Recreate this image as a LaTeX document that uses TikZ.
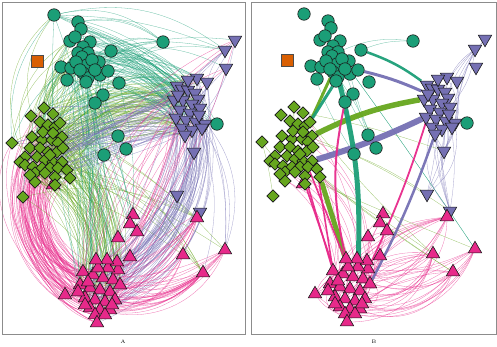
\documentclass[tikz,border=0pt]{standalone}
\usetikzlibrary{shapes.geometric}
\definecolor{dteal}{HTML}{1B9E77}
\definecolor{dorange}{HTML}{D95F02}
\definecolor{dpurple}{HTML}{7570B3}
\definecolor{dpink}{HTML}{E7298A}
\definecolor{dgreen}{HTML}{66A61E}
\pgfdeclarelayer{bg}
\pgfsetlayers{bg,main}
\tikzset{
  nodeline/.style={draw=black!90, line width=0.6pt, inner sep=0pt},
  tealN/.style={nodeline, circle, fill=dteal, minimum size=12.5pt},
  purpN/.style={nodeline, regular polygon, regular polygon sides=3, shape border rotate=180, fill=dpurple, minimum size=15.5pt},
  pinkN/.style={nodeline, regular polygon, regular polygon sides=3, fill=dpink, minimum size=15.5pt},
  dmdN/.style={nodeline, diamond, aspect=1, fill=dgreen, minimum width=12.5pt, minimum height=12.5pt},
  sqN/.style={draw=black!70, line width=0.5pt, fill=dorange, minimum size=12pt, inner sep=0pt},
  thinE/.style={line width=0.3pt, draw opacity=0.65},
  tE/.style={thinE, draw=dteal},
  uE/.style={thinE, draw=dpurple},
  pE/.style={thinE, draw=dpink},
  gE/.style={thinE, draw=dgreen},
  thickE/.style={draw opacity=0.95},
  frameR/.style={draw=black!45, line width=0.8pt},
  lbl/.style={font=\fontsize{5}{6}\selectfont, inner sep=0pt}
}
\newcommand\placenodes[3]{%
  \foreach \x/\y [count=\i] in {177/86,182/89,188/90,195/93,198/99,174/100,183/100,192/104,200/108,180/110,190/113,176/118,186/120,196/122,205/124,182/128,192/130,202/128,185/135,178/95,199/115,197/78,207/82,188/80,235/40,225/50,226/68,194/152,177/195,200/212}
    {\node[purpN] (#1p\i) at (\x+#2,-\y+#3) {};}
  \foreach \x/\y [count=\i] in {83/272,93/275,103/278,113/280,80/285,90/288,100/290,110/292,120/285,85/298,95/300,105/302,115/300,90/308,100/310,110/310,95/315,105/315,78/292,88/282,118/270,108/268,98/268,85/305,112/305,97/323,133/215,130/224,137/232,118/238,130/257,117/262,107/260,96/260,65/295,197/218,225/250,183/255,203/273,53/185}
    {\node[pinkN] (#1t\i) at (\x+#2,-\y+#3) {};}
  \foreach \x/\y [count=\i] in {12/143,44/108,31/116,53/114,40/122,48/125,55/127,62/137,32/137,42/140,52/140,58/143,30/148,40/148,48/152,57/152,63/148,25/157,37/157,45/160,53/162,62/162,20/162,25/165,33/167,42/168,50/168,58/168,67/170,35/173,45/173,55/177,70/178,35/182,55/185,23/197,30/175,50/155,43/132,53/133,60/123}
    {\node[dmdN] (#1d\i) at (\x+#2,-\y+#3) {};}
  \foreach \x/\y [count=\i] in {54/15,78/22,81/29,70/41,75/37,90/42,83/47,78/53,88/53,82/57,111/51,61/67,71/68,99/62,87/65,83/73,88/78,100/75,108/71,67/80,86/82,119/83,103/95,95/103,92/60,76/62,95/70,80/70,163/42,118/136,126/149,104/155,217/124}
    {\node[tealN] (#1c\i) at (\x+#2,-\y+#3) {};}
  \node[sqN] (#1sq) at (37+#2,-61+#3) {};
}
\newcommand\edges[7]{%
  \foreach \k in {1,...,#5}{%
    \pgfmathrandominteger{\s}#2%
    \pgfmathrandominteger{\t}#4%
    \pgfmathrandominteger{\b}#6%
    \draw[#7] (#1\s) to[bend left=\b] (#3\t);}}
\begin{document}
\begin{tikzpicture}[x=1pt,y=1pt]
\useasboundingbox (0,0) rectangle (497,-346);
\pgfmathsetseed{7}
\draw[frameR] (2.5,-2.5) rectangle (245.5,-334);
\draw[frameR] (251.5,-2.5) rectangle (496,-334);
\node[lbl] (labA) at (123,-342) {A};
\node[lbl] (labB) at (374,-342) {B};
\placenodes{A-}{0}{0}
\placenodes{B-}{250}{1}
\begin{pgfonlayer}{bg}
% ---------- panel A ----------
\edges{A-t}{{1}{26}}{A-d}{{1}{41}}{85}{{35}{65}}{pE}
\edges{A-d}{{1}{41}}{A-t}{{1}{26}}{65}{{15}{40}}{gE}
\edges{A-d}{{1}{41}}{A-p}{{1}{24}}{70}{{10}{35}}{gE}
\edges{A-d}{{1}{41}}{A-c}{{1}{28}}{30}{{15}{40}}{gE}
\edges{A-d}{{1}{41}}{A-t}{{36}{39}}{12}{{5}{25}}{gE}
\edges{A-c}{{1}{28}}{A-p}{{1}{24}}{70}{{8}{30}}{tE}
\edges{A-c}{{1}{28}}{A-t}{{1}{34}}{35}{{-12}{12}}{tE}
\edges{A-c}{{1}{28}}{A-d}{{1}{41}}{15}{{-30}{-10}}{tE}
\edges{A-c}{{1}{28}}{A-c}{{29}{29}}{8}{{10}{30}}{tE}
\edges{A-c}{{1}{28}}{A-p}{{25}{27}}{6}{{10}{25}}{tE}
\edges{A-c}{{30}{32}}{A-c}{{1}{28}}{8}{{-10}{10}}{tE}
\edges{A-c}{{33}{33}}{A-p}{{1}{24}}{5}{{-10}{10}}{tE}
\edges{A-p}{{1}{24}}{A-d}{{1}{41}}{55}{{-12}{12}}{uE}
\edges{A-p}{{1}{24}}{A-t}{{1}{26}}{55}{{20}{45}}{uE}
\edges{A-p}{{1}{24}}{A-t}{{27}{39}}{15}{{10}{30}}{uE}
\edges{A-p}{{25}{27}}{A-p}{{1}{24}}{8}{{-15}{15}}{uE}
\edges{A-t}{{1}{26}}{A-t}{{36}{39}}{45}{{-40}{-10}}{pE}
\edges{A-t}{{1}{34}}{A-p}{{1}{30}}{18}{{-15}{15}}{pE}
\edges{A-p}{{25}{27}}{A-t}{{1}{26}}{5}{{-40}{-20}}{pE}
% ---------- panel B thin ----------
\edges{B-t}{{1}{26}}{B-t}{{36}{39}}{30}{{-50}{-10}}{pE}
\edges{B-t}{{1}{26}}{B-t}{{36}{39}}{15}{{10}{35}}{pE}
\edges{B-t}{{1}{26}}{B-t}{{27}{35}}{20}{{-40}{40}}{pE}
\edges{B-t}{{1}{26}}{B-t}{{1}{26}}{10}{{50}{80}}{pE}
\edges{B-d}{{1}{41}}{B-t}{{36}{39}}{5}{{-10}{10}}{gE}
\edges{B-c}{{1}{28}}{B-t}{{36}{37}}{2}{{0}{5}}{tE}
\edges{B-p}{{1}{24}}{B-p}{{28}{30}}{18}{{-30}{30}}{uE}
\edges{B-p}{{1}{24}}{B-p}{{25}{27}}{8}{{-20}{20}}{uE}
\edges{B-d}{{1}{41}}{B-p}{{28}{30}}{3}{{-10}{10}}{gE}
\edges{B-d}{{1}{41}}{B-t}{{1}{26}}{12}{{20}{40}}{pE}
\edges{B-d}{{1}{41}}{B-d}{{1}{41}}{8}{{-10}{10}}{gE}
\edges{B-c}{{30}{32}}{B-c}{{1}{28}}{6}{{-10}{10}}{tE}
\draw[tE] (B-c11) to[bend left=10] (B-c29);
\draw[tE] (B-c9) to[bend left=14] (B-c29);
% ---------- panel B bundles ----------
\draw[thickE, dgreen, line width=5.5pt] (B-d8) to[bend left=8] (B-p6);
\draw[thickE, dpurple, line width=6pt] (B-d22) to[bend right=4] (B-p12);
\draw[thickE, dgreen, line width=5pt] (B-d33) to (B-t23);
\foreach \a/\b in {32/1,35/20,28/23,29/1}{\draw[thickE, dpink, line width=1.6pt] (B-d\a) to (B-t\b);}
\draw[thickE, dgreen, line width=3pt] (B-d41) to (B-c16);
\draw[thickE, dteal, line width=3pt] (B-c21) to (B-d41);
\draw[thickE, dteal, line width=5pt] (B-c17) to[bend left=8] (B-t22);
\draw[thickE, dpink, line width=2pt] (B-c24) to[bend right=12] (B-t34);
\draw[thickE, dteal, line width=2.5pt] (B-c11) to[bend left=8] (B-p1);
\draw[thickE, dpurple, line width=3pt] (B-c19) to[bend left=5] (B-p20);
\draw[thickE, dpink, line width=1.8pt] (B-t21) to[bend right=4] (B-p10);
\draw[thickE, dpurple, line width=2.5pt] (B-t9) to[bend right=4] (B-p19);
\end{pgfonlayer}
\end{tikzpicture}
\end{document}
